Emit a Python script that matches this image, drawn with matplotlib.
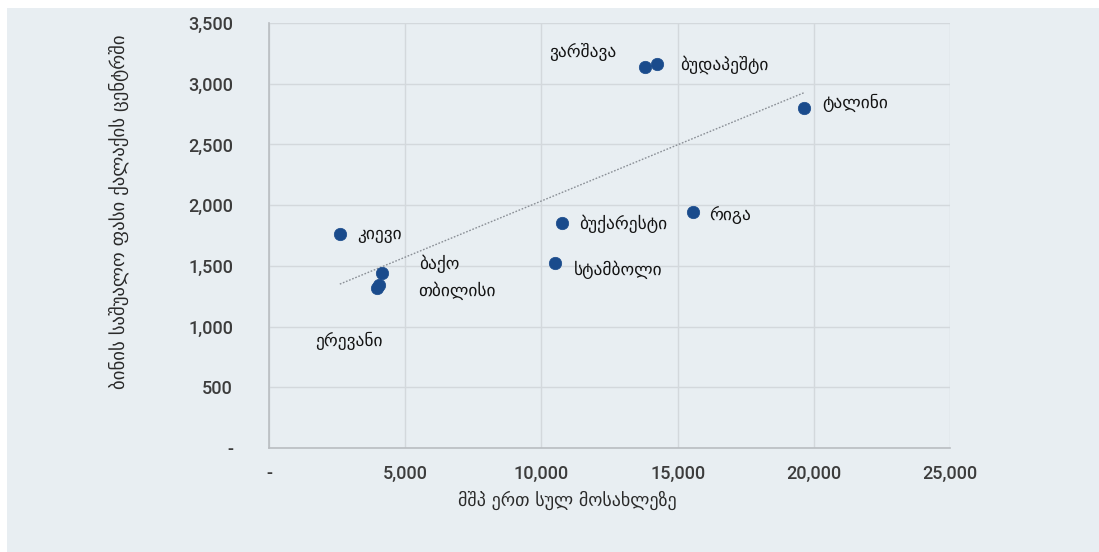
import numpy as np
import matplotlib.pyplot as plt
from matplotlib.patches import Rectangle
from matplotlib.ticker import FuncFormatter

# GDP per capita vs. average apartment price in city centre
cities = ["კიევი", "ბაქო", "ერევანი", "თბილისი", "ვარშავა",
          "ბუდაპეშტი", "ტალინი", "რიგა", "ბუქარესტი", "სტამბოლი"]
gdp = [2600, 4150, 3950, 4050, 13800, 14250, 19650, 15550, 10770, 10500]
price = [1760, 1440, 1320, 1340, 3140, 3160, 2800, 1945, 1850, 1520]

# label offsets in pixels (left edge of text, vertical centre)
label_off = [(17, 0), (37, 9), (-61, -53), (39, -6), (-96, 15),
             (23, 0), (18, 5), (17, -3), (17, 0), (19, -6)]

xticks = [0, 5000, 10000, 15000, 20000, 25000]
yticks = [0, 500, 1000, 1500, 2000, 2500, 3000, 3500]

bg = "#e8eef2"
dot = "#1a4b8c"
tick_col = "#3c3c3c"

fig = plt.figure(figsize=(10.99, 5.52), dpi=100)
fig.patch.set_facecolor("white")
fig.patches.append(Rectangle((7 / 1099, 0), 1, 1 - 8 / 552, transform=fig.transFigure,
                             facecolor=bg, edgecolor="none", zorder=-10))

ax = fig.add_axes([269 / 1099, (552 - 448) / 552, 681 / 1099, 425 / 552])
ax.set_facecolor(bg)

ax.scatter(gdp, price, s=80, color=dot, zorder=3, edgecolors=dot, linewidths=0.5)

# linear trend line
k, b = np.polyfit(gdp, price, 1)
xs = np.array([min(gdp), max(gdp)])
ax.plot(xs, k * xs + b, color="#8a8f96", linestyle=(0, (1.2, 1.2)), linewidth=1, zorder=2)

for name, x, y, (dx, dy) in zip(cities, gdp, price, label_off):
    ax.annotate(name, (x, y), xytext=(dx, dy), textcoords="offset pixels",
                ha="left", va="center", fontsize=12.5, color="#141414",
                family="DejaVu Sans")

ax.set_xlim(0, 25000)
ax.set_ylim(0, 3500)
ax.set_xticks(xticks)
ax.set_yticks(yticks)
fmt = FuncFormatter(lambda v, p: "-" if v == 0 else f"{int(v):,}")
ax.xaxis.set_major_formatter(fmt)
ax.yaxis.set_major_formatter(fmt)
ax.tick_params(axis="both", length=0, labelsize=13, labelcolor=tick_col)
ax.tick_params(axis="y", pad=26)
ax.tick_params(axis="x", pad=12)
for lab in ax.get_xticklabels() + ax.get_yticklabels():
    lab.set_family("Roboto")
    lab.set_fontweight("medium")

ax.grid(True, color="#d3d8dc", linewidth=1)
ax.set_axisbelow(True)
for s in ["top", "right"]:
    ax.spines[s].set_visible(False)
for s in ["left", "bottom"]:
    ax.spines[s].set_color("#b9bdc1")
    ax.spines[s].set_linewidth(1.2)

ax.set_xlabel("მშპ ერთ სულ მოსახლეზე", fontsize=13, color="#2a2a2a", family="DejaVu Sans")
ax.xaxis.set_label_coords(0.4376, -0.10)
ax.set_ylabel("ბინის საშუალო ფასი ქალაქის ცენტრში", fontsize=13.5, color="#2a2a2a",
              family="DejaVu Sans")
ax.yaxis.set_label_coords(-0.205, 0.555)

fig.savefig("out.png", dpi=100, facecolor=fig.get_facecolor())
